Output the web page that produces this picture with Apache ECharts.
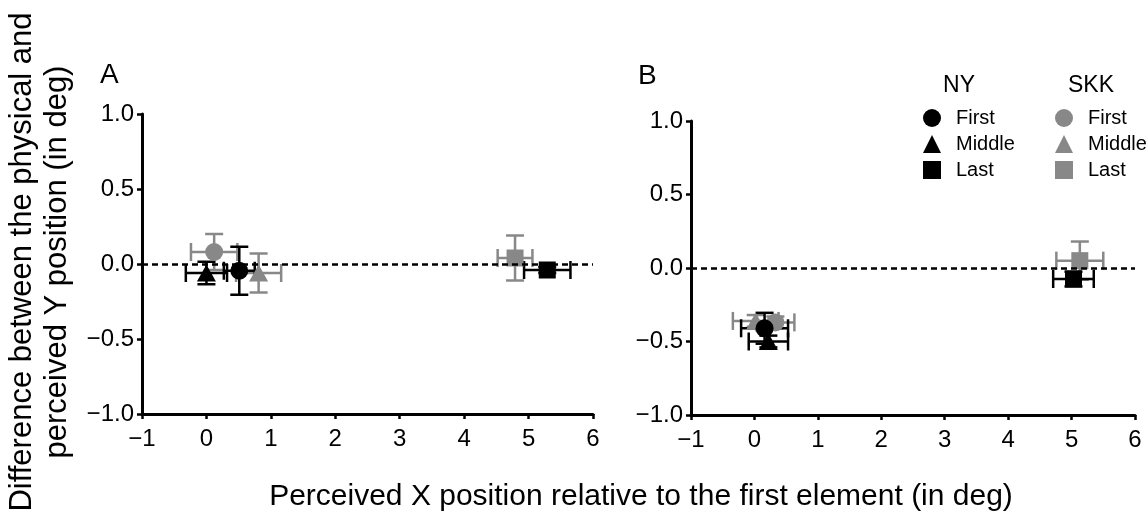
<!DOCTYPE html>
<html>
<head>
<meta charset="utf-8">
<script src="https://cdn.jsdelivr.net/npm/echarts@6/dist/echarts.min.js"></script>
<style>
  html, body { margin: 0; padding: 0; background: #fff; }
  #chart { width: 1148px; height: 523px; }
</style>
</head>
<body>
<div id="chart"></div>
<script>
// 位置: First / Middle / Last
const positions = ['First', 'Middle', 'Last'];
const xTicks = [-1, 0, 1, 2, 3, 4, 5, 6];
const yTicks = [-1.0, -0.5, 0.0, 0.5, 1.0];

// Panel A
const nyA_x = [0.51, 0.0, 5.29];
const nyA_y = [-0.045, -0.06, -0.04];
const nyA_xerr = [0.24, 0.32, 0.36];
const nyA_yerr = [0.16, 0.075, 0.02];
const skkA_x = [0.12, 0.81, 4.79];
const skkA_y = [0.08, -0.06, 0.04];
const skkA_xerr = [0.36, 0.35, 0.27];
const skkA_yerr = [0.12, 0.13, 0.15];

// Panel B
const nyB_x = [0.16, 0.22, 5.03];
const nyB_y = [-0.41, -0.50, -0.075];
const nyB_xerr = [0.37, 0.31, 0.32];
const nyB_yerr = [0.105, 0.04, 0.05];
const skkB_x = [0.33, 0.02, 5.13];
const skkB_y = [-0.37, -0.36, 0.05];
const skkB_xerr = [0.30, 0.36, 0.37];
const skkB_yerr = [0.04, 0.04, 0.13];

const BLACK = '#000000';
const GRAY = '#888888';
const FONT = 'Liberation Sans, Arial, Helvetica, sans-serif';
const symbols = ['circle', 'triangle', 'rect'];
const symbolSizes = [18, [19, 17], 17];

const chart = echarts.init(document.getElementById('chart'));

function minus(s) { return String(s).replace('-', '\u2212'); }

function makeAxes(idx) {
  const axisLine = { onZero: false, lineStyle: { color: BLACK, width: 3 } };
  const axisTick = { show: true, inside: false, length: 5, lineStyle: { color: BLACK, width: 2.5 } };
  return {
    x: {
      type: 'value', gridIndex: idx, min: xTicks[0], max: xTicks[xTicks.length - 1], interval: 1,
      axisLine: axisLine, axisTick: axisTick, splitLine: { show: false },
      axisLabel: { color: BLACK, fontSize: 24, fontFamily: FONT, margin: 13, formatter: v => minus(v) }
    },
    y: {
      type: 'value', gridIndex: idx, min: yTicks[0], max: yTicks[yTicks.length - 1], interval: 0.5,
      axisLine: axisLine, axisTick: axisTick, splitLine: { show: false },
      axisLabel: { color: BLACK, fontSize: 24, fontFamily: FONT, margin: 8, formatter: v => minus(v.toFixed(1)) }
    }
  };
}

function errorSeries(name, idx, xs, ys, xe, ye, color, withZero) {
  const s = {
    name: name + ' err',
    type: 'custom',
    xAxisIndex: idx, yAxisIndex: idx,
    silent: true,
    encode: { x: 0, y: 1 },
    data: xs.map((x, i) => [x, ys[i], xe[i], ye[i]]),
    renderItem: function (params, api) {
      const x = api.value(0), y = api.value(1), ex = api.value(2), ey = api.value(3);
      const l = api.coord([x - ex, y]);
      const r = api.coord([x + ex, y]);
      const t = api.coord([x, y + ey]);
      const b = api.coord([x, y - ey]);
      const cap = 9;
      const st = { stroke: color, lineWidth: 2.5, fill: null };
      const line = (x1, y1, x2, y2) => ({ type: 'line', shape: { x1: x1, y1: y1, x2: x2, y2: y2 }, style: st });
      return {
        type: 'group',
        children: [
          line(l[0], l[1], r[0], r[1]),
          line(l[0], l[1] - cap, l[0], l[1] + cap),
          line(r[0], r[1] - cap, r[0], r[1] + cap),
          line(t[0], t[1], b[0], b[1]),
          line(t[0] - cap, t[1], t[0] + cap, t[1]),
          line(b[0] - cap, b[1], b[0] + cap, b[1])
        ]
      };
    }
  };
  if (withZero) {
    s.markLine = {
      silent: true, symbol: 'none', label: { show: false },
      lineStyle: { color: BLACK, width: 2.5, type: [6, 4] },
      data: [{ yAxis: 0 }]
    };
  }
  return s;
}

function pointSeries(prefix, idx, xs, ys, color) {
  return positions.map((p, i) => ({
    name: prefix + ' ' + p,
    type: 'scatter',
    xAxisIndex: idx, yAxisIndex: idx,
    symbol: symbols[i],
    symbolSize: symbolSizes[i],
    itemStyle: { color: color, opacity: 1 },
    data: [[xs[i], ys[i]]]
  }));
}

function panelSeries(idx, ny, skk) {
  return [
    errorSeries('SKK', idx, skk.x, skk.y, skk.xe, skk.ye, GRAY, true),
    ...pointSeries('SKK', idx, skk.x, skk.y, GRAY),
    errorSeries('NY', idx, ny.x, ny.y, ny.xe, ny.ye, BLACK, false),
    ...pointSeries('NY', idx, ny.x, ny.y, BLACK)
  ];
}

const axA = makeAxes(0), axB = makeAxes(1);

const legendBase = {
  orient: 'vertical',
  itemWidth: 18, itemHeight: 18, itemGap: 6,
  selectedMode: false,
  textStyle: { color: BLACK, fontSize: 20, fontFamily: FONT, padding: [0, 0, 0, 10] },
  formatter: name => name.split(' ')[1]
};

const option = {
  animation: false,
  backgroundColor: '#fff',
  grid: [
    { left: 142, top: 114, width: 451, height: 300 },
    { left: 691, top: 121, width: 444, height: 294 }
  ],
  xAxis: [axA.x, axB.x],
  yAxis: [axA.y, axB.y],
  legend: [
    Object.assign({}, legendBase, {
      left: 918, top: 103,
      data: positions.map((p, i) => ({ name: 'NY ' + p, icon: symbols[i], itemStyle: { color: BLACK } }))
    }),
    Object.assign({}, legendBase, {
      left: 1050, top: 103,
      data: positions.map((p, i) => ({ name: 'SKK ' + p, icon: symbols[i], itemStyle: { color: GRAY } }))
    })
  ],
  graphic: [
    { type: 'text', left: 100, top: 61, style: { text: 'A', font: '28px ' + FONT, fill: BLACK } },
    { type: 'text', left: 638, top: 62, style: { text: 'B', font: '28px ' + FONT, fill: BLACK } },
    { type: 'text', x: 959, y: 86, style: { text: 'NY', font: '23px ' + FONT, fill: BLACK, textAlign: 'center', textVerticalAlign: 'middle' } },
    { type: 'text', x: 1091, y: 86, style: { text: 'SKK', font: '23px ' + FONT, fill: BLACK, textAlign: 'center', textVerticalAlign: 'middle' } },
    {
      type: 'text', x: 40, y: 262, rotation: Math.PI / 2,
      style: {
        text: 'Difference between the physical and\nperceived Y position (in deg)',
        font: '31px ' + FONT, fill: BLACK, textAlign: 'center', textVerticalAlign: 'middle', lineHeight: 35
      }
    },
    {
      type: 'text', x: 641, y: 497,
      style: {
        text: 'Perceived X position relative to the first element (in deg)',
        font: '30px ' + FONT, fill: BLACK, textAlign: 'center', textVerticalAlign: 'middle'
      }
    }
  ],
  series: [
    ...panelSeries(0,
      { x: nyA_x, y: nyA_y, xe: nyA_xerr, ye: nyA_yerr },
      { x: skkA_x, y: skkA_y, xe: skkA_xerr, ye: skkA_yerr }),
    ...panelSeries(1,
      { x: nyB_x, y: nyB_y, xe: nyB_xerr, ye: nyB_yerr },
      { x: skkB_x, y: skkB_y, xe: skkB_xerr, ye: skkB_yerr })
  ]
};

chart.setOption(option);
</script>
</body>
</html>
